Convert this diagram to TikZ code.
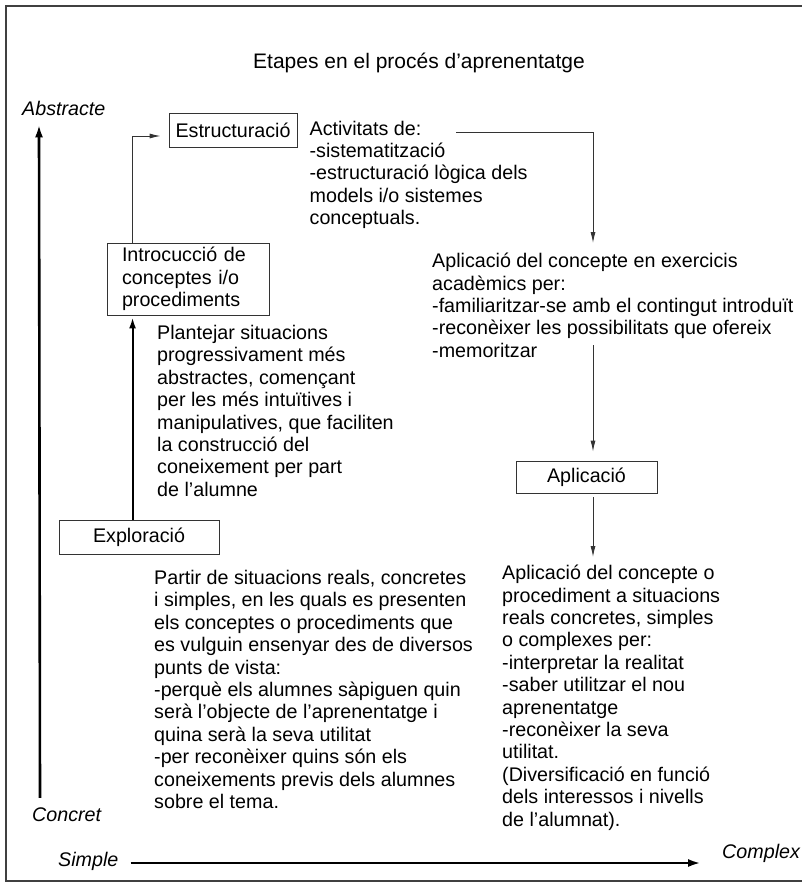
\documentclass[tikz,border=0pt]{standalone}
\usepackage{fontspec}
\setmainfont{Liberation Sans}
\usetikzlibrary{positioning,arrows.meta}

\begin{document}
\begin{tikzpicture}[x=1pt,y=-1pt,>={Latex[length=11pt,width=5pt]},
  box/.style={draw=black!80,line width=0.9pt,inner sep=0pt,font=\fontsize{19.7}{22.4}\selectfont},
  txt/.style={inner sep=0pt,anchor=north west,align=left,font=\fontsize{19.7}{22.4}\selectfont},
  axislabel/.style={inner sep=0pt,anchor=west,font=\fontsize{19.7}{22.4}\selectfont\itshape},
  flow/.style={->,draw=black!80,line width=0.9pt},
  thickflow/.style={->,line width=2pt,>={Latex[length=11pt,width=7pt]}},
  axis/.style={->,line width=2.6pt,>={Latex[length=13pt,width=8pt]}}]
  \useasboundingbox (0,0) rectangle (802,883);
  % frame, open on the right
  \draw[black!75,line width=1.2pt] (802,6) -- (6,6) -- (6,881) -- (802,881);
  \node (title) at (419,63) {\fontsize{21}{25}\selectfont Etapes en el procés d’aprenentatge};

  % axes labels
  \node[axislabel] (abstr)   at (22,108)  {Abstracte};
  \node[axislabel] (concret) at (32,815)  {Concret};
  \node[axislabel] (simple)  at (58,861)  {Simple};
  \node[axislabel] (complex) at (722,853) {Complex};

  % stages
  \node[box,minimum width=128pt,minimum height=34pt] (estr)   at (233,130)   {Estructuració};
  \node[box,align=left,text width=132pt,inner xsep=15pt,minimum height=72pt]
                                                     (intro)  at (188,279)   {Introcucció de\\conceptes i/o\\procediments};
  \node[box,minimum width=160pt,minimum height=34pt] (explor) at (139,537)   {Exploració};
  \node[box,minimum width=141pt,minimum height=32pt] (aplbox) at (586.5,477) {Aplicació};

  % descriptions
  \node[txt] (activ) [below right=8pt and 12pt of estr.north east]
    {Activitats de:\\-sistematització\\-estructuració lògica dels\\models i/o sistemes\\conceptuals.};
  \node[txt] (aplic1) at (432,253)
    {Aplicació del concepte en exercicis\\acadèmics per:\\-familiaritzar-se amb el contingut introduït\\-reconèixer les possibilitats que ofereix\\-memoritzar};
  \node[txt] (plant) at (157,325)
    {Plantejar situacions\\progressivament més\\abstractes, començant\\per les més intuïtives i\\manipulatives, que faciliten\\la construcció del\\coneixement per part\\de l’alumne};
  \node[txt] (partir) at (154,570)
    {Partir de situacions reals, concretes\\i simples, en les quals es presenten\\els conceptes o procediments que\\es vulguin ensenyar des de diversos\\punts de vista:\\-perquè els alumnes sàpiguen quin\\serà l’objecte de l’aprenentatge i\\quina serà la seva utilitat\\-per reconèixer quins són els\\coneixements previs dels alumnes\\sobre el tema.};
  \node[txt] (aplic2) at (502,565)
    {Aplicació del concepte o\\procediment a situacions\\reals concretes, simples\\o complexes per:\\-interpretar la realitat\\-saber utilitzar el nou\\aprenentatge\\-reconèixer la seva\\utilitat.\\(Diversificació en funció\\dels interessos i nivells\\de l’alumnat).};

  \coordinate (actstart) at (456,132);
  \coordinate (memstart) at (593,345);

  % connectors
  \draw[thickflow] ([xshift=74pt]explor.north west) -- ([xshift=26pt,yshift=-2pt]intro.south west);
  \draw[flow] ([xshift=26pt]intro.north west) |- ([xshift=-8pt,yshift=-6pt]estr.west);
  \draw[flow] (actstart) -| ([xshift=161pt,yshift=10pt]aplic1.north west);
  \draw[flow,shorten >=9pt] (memstart) -- (memstart |- aplbox.north);
  \draw[flow,shorten <=4pt] ([xshift=6.5pt]aplbox.south) -- ([xshift=91pt,yshift=8pt]aplic2.north west);

  \draw[axis] ([xshift=8pt,yshift=10pt]concret.north west) -- ([xshift=17pt,yshift=-9pt]abstr.south west);
  \draw[axis] ([xshift=12pt,yshift=-2pt]simple.east) -- ([xshift=-21pt,yshift=-10pt]complex.west);
\end{tikzpicture}
\end{document}
